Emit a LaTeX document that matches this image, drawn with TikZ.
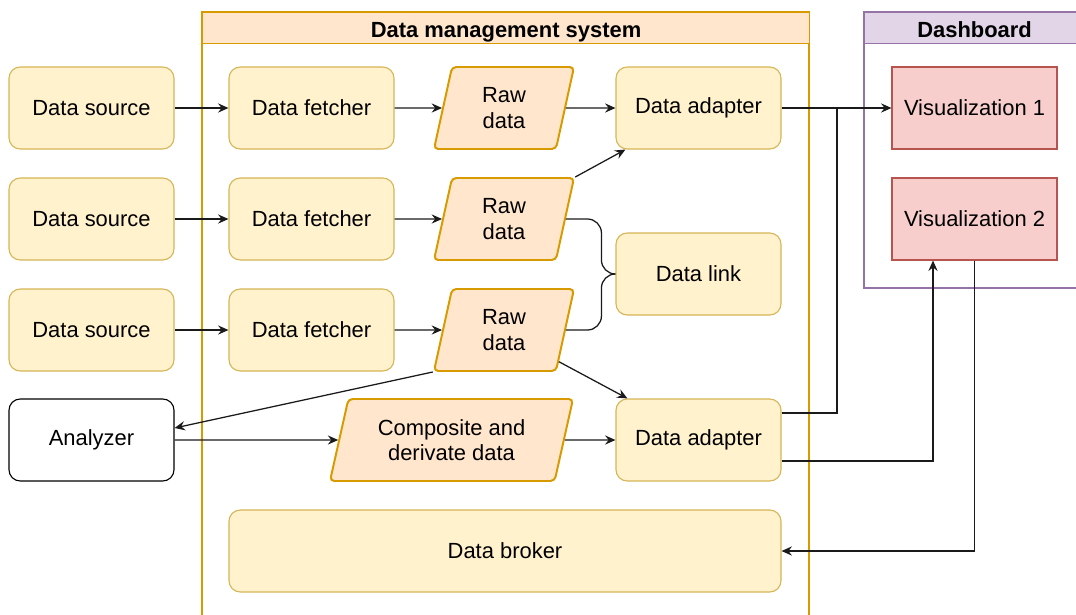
\documentclass[tikz,border=0pt]{standalone}
\usepackage{fontspec}
\setmainfont{Liberation Sans}
\usetikzlibrary{arrows.meta, positioning, calc, shapes.geometric, backgrounds}
\definecolor{yellowFill}{HTML}{FFF2CC}
\definecolor{yellowLine}{HTML}{D6B656}
\definecolor{orangeFill}{HTML}{FFE6CC}
\definecolor{orangeLine}{HTML}{D79B00}
\definecolor{roseFill}{HTML}{F8CECC}
\definecolor{roseLine}{HTML}{B85450}
\definecolor{lilacFill}{HTML}{E1D5E7}
\definecolor{lilacLine}{HTML}{9673A6}
\definecolor{wireBlack}{HTML}{1A1A1A}

\begin{document}
\begin{tikzpicture}[
  font=\fontsize{15.6}{18.1}\selectfont,
  box/.style    ={rounded corners=8pt, draw, line width=0.8pt, align=center, inner sep=2pt,
                  minimum width=4.125cm, minimum height=2.05cm},
  part/.style   ={box, fill=yellowFill, draw=yellowLine},
  tool/.style   ={box, fill=white, draw=black},
  view/.style   ={box, rounded corners=0pt, fill=roseFill, draw=roseLine},
  store/.style  ={trapezium, trapezium left angle=67.5, trapezium right angle=112.5,
                  trapezium stretches body, rounded corners=3pt, fill=orangeFill, draw=orangeLine,
                  line width=1.4pt, align=center, inner sep=1pt,
                  minimum width=3.5cm, minimum height=2.05cm},
  header/.style ={draw, line width=0.8pt, anchor=north west, minimum height=0.775cm,
                  inner sep=0pt, text height=0.47cm, text depth=0pt,
                  font=\fontsize{15.6}{18.1}\selectfont\bfseries},
  wire/.style   ={draw=wireBlack, line width=0.9pt},
  flow/.style   ={wire, -{Stealth[length=2.6mm, width=2.3mm, inset=0.9mm]}},
]
\useasboundingbox (0,0) rectangle (26.9,-15.35);

% ----- Containers -----
\begin{scope}[on background layer]
  \draw[orangeLine, line width=0.8pt] (5.05,-0.3) rectangle (20.225,-15.8);
  \draw[lilacLine, line width=0.8pt] (21.6,-0.3) rectangle (27.1,-7.2);
\end{scope}
\node[header, fill=orangeFill, draw=orangeLine, minimum width=15.175cm] (dmsHead) at (5.05,-0.3)
  {Data management system};
\node[header, fill=lilacFill, draw=lilacLine, minimum width=5.5cm] (dashHead) at (21.6,-0.3)
  {Dashboard};

% ----- Sources and fetchers -----
\node[part] (src1) at (2.2875,-2.7)  {Data source};
\node[part] (src2) at (2.2875,-5.475) {Data source};
\node[part] (src3) at (2.2875,-8.25) {Data source};

\node[part] (fetch1) at (7.7875,-2.7)  {Data fetcher};
\node[part] (fetch2) at (7.7875,-5.475) {Data fetcher};
\node[part] (fetch3) at (7.7875,-8.25) {Data fetcher};

\node[store] (raw1) at (12.6,-2.7)  {Raw\\data};
\node[store] (raw2) at (12.6,-5.475) {Raw\\data};
\node[store] (raw3) at (12.6,-8.25) {Raw\\data};

% ----- Adapters, link, analysis -----
\node[part] (adapter1) at (17.4625,-2.7)  {Data adapter};
\node[part] (link)     at (17.4625,-6.85) {Data link};
\node[part] (adapter2) at (17.4625,-11.0) {Data adapter};

\node[tool] (analyzer) at (2.2875,-11.0) {Analyzer};
\node[store, minimum width=6.075cm] (composite) at (11.2875,-11.0)
  {Composite and\\derivate data};

\node[part, minimum width=13.8cm] (broker) at (12.625,-13.775) {Data broker};

% ----- Dashboard views -----
\node[view] (vis1) at (24.3625,-2.7)  {Visualization 1};
\node[view] (vis2) at (24.3625,-5.475) {Visualization 2};

% ----- Ingest rows -----
\foreach \i in {1,2,3} {
  \draw[flow] (src\i.east) -- (fetch\i.west);
  \draw[flow] (fetch\i.east) -- (raw\i.west);
}
\draw[flow] (raw1.east) -- (adapter1.west);
\draw[flow] (raw2.top right corner) -- ($(adapter1.south west)+(0.25,0)$);
\draw[flow] (raw3.-30) -- ($(adapter2.north west)+(0.3,0)$);

% ----- Brace into the data link -----
\draw[wire, rounded corners=0.35cm] (raw2.east) -| ([xshift=-0.35cm]link.west) -- (link.west);
\draw[wire, rounded corners=0.35cm] (raw3.east) -| ([xshift=-0.35cm]link.west) -- (link.west);

% ----- Analysis loop -----
\draw[flow] (raw3.bottom left corner) -- ([yshift=0.3cm]analyzer.east);
\draw[flow] (analyzer.east) -- (composite.west);
\draw[flow] (composite.east) -- (adapter2.west);

% ----- Out to the dashboard and back -----
\coordinate (tap) at (20.925,-2.7);
\draw[flow] (adapter1.east) -- (vis1.west);
\draw[wire] ([yshift=0.675cm]adapter2.east) -| (tap);
\draw[flow] ([yshift=-0.525cm]adapter2.east) -| ([xshift=-1.0375cm]vis2.south);
\draw[flow] (vis2.south) |- (broker.east);

\end{tikzpicture}
\end{document}
